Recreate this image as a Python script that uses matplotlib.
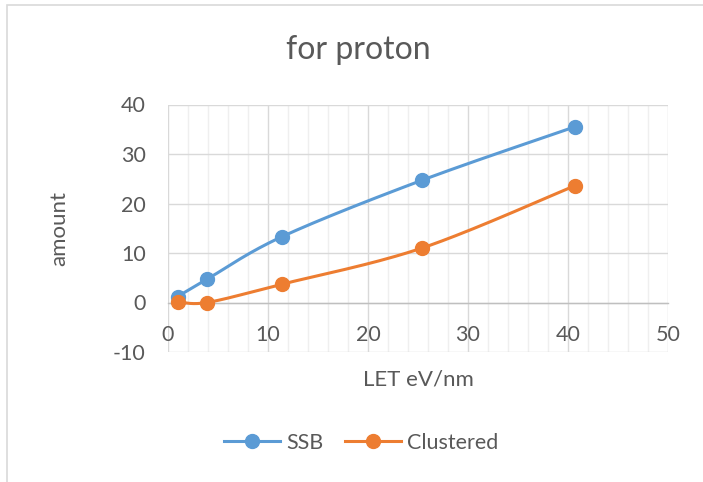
import matplotlib.pyplot as plt
from matplotlib.patches import Rectangle
import numpy as np

plt.rcParams['font.family'] = ['Lato', 'DejaVu Sans']
plt.rcParams['axes.unicode_minus'] = False

let = [0.95, 3.9, 11.4, 25.4, 40.7]
ssb = [1.2, 4.7, 13.3, 24.7, 35.5]
clustered = [0.2, 0.0, 3.7, 11.0, 23.6]

x_ticks = [0, 10, 20, 30, 40, 50]
y_ticks = [-10, 0, 10, 20, 30, 40]

BLUE = '#5B9BD5'
ORANGE = '#ED7D31'
TEXT = '#595959'


def smooth(xs, ys, n=40):
    # bezier smoothing between consecutive points, spreadsheet style
    p = np.column_stack([xs, ys]).astype(float)
    p = np.vstack([p[0], p, p[-1]])
    out = []
    for i in range(1, len(p) - 2):
        p0, p1, p2, p3 = p[i - 1], p[i], p[i + 1], p[i + 2]
        c1 = p1 + (p2 - p0) / 6
        c2 = p2 - (p3 - p1) / 6
        t = np.linspace(0, 1, n)[:, None]
        seg = ((1 - t) ** 3) * p1 + 3 * ((1 - t) ** 2) * t * c1 \
            + 3 * (1 - t) * t ** 2 * c2 + t ** 3 * p2
        out.append(seg if i == 1 else seg[1:])
    out = np.vstack(out)
    return out[:, 0], out[:, 1]


fig = plt.figure(figsize=(7.03, 4.82), dpi=100)
fig.patches.append(Rectangle((7 / 703, -0.1), 1.2, 1 - 5 / 482 + 0.1,
                             transform=fig.transFigure, fill=False,
                             edgecolor='#D9D9D9', linewidth=1.2))

ax = fig.add_axes([168 / 703, 1 - 352 / 482, 500 / 703, 247.5 / 482])

for ys, col, name in [(ssb, BLUE, 'SSB'), (clustered, ORANGE, 'Clustered')]:
    sx, sy = smooth(let, ys)
    ax.plot(sx, sy, color=col, lw=2.2, solid_capstyle='round', zorder=3)
    ax.plot(let, ys, 'o', color=col, ms=10, zorder=4)
    ax.plot([], [], '-o', color=col, lw=2.2, ms=10, label=name)

ax.set_xlim(0, 50)
ax.set_ylim(-10, 40)
ax.set_xticks(x_ticks)
ax.set_yticks(y_ticks)
ax.set_xticks(np.arange(0, 51, 2), minor=True)
ax.grid(which='major', color='#D9D9D9', lw=1.0)
ax.grid(which='minor', axis='x', color='#EFEFEF', lw=1.0)
ax.set_axisbelow(True)

for s in ['top', 'right', 'left']:
    ax.spines[s].set_visible(False)
ax.spines['bottom'].set_position(('data', 0))
ax.spines['bottom'].set_color('#BFBFBF')
ax.spines['bottom'].set_linewidth(1.0)

ax.tick_params(which='both', length=0, labelsize=15.5, colors=TEXT)
ax.tick_params(axis='x', pad=16)
ax.tick_params(axis='y', pad=16)

fig.text(358 / 703, 1 - 50 / 482, 'for proton', ha='center', va='center',
         fontsize=23, color=TEXT)
fig.text(418 / 703, 1 - 379 / 482, 'LET eV/nm', ha='center', va='center',
         fontsize=16, color=TEXT)
fig.text(59 / 703, 1 - 229 / 482, 'amount', ha='center', va='center',
         rotation=90, fontsize=16, color=TEXT)

fig.legend(loc='center', bbox_to_anchor=(361 / 703, 1 - 443 / 482), ncol=2,
           frameon=False, fontsize=15.5, handlelength=2.6, columnspacing=1.0,
           handletextpad=0.3, labelcolor=TEXT)

fig.savefig('out.png', dpi=100)
